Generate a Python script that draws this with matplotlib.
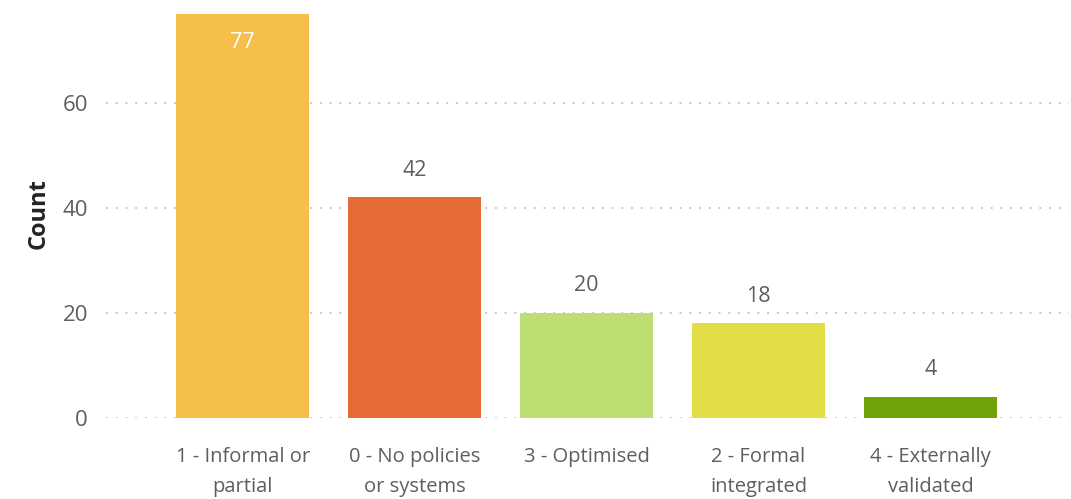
import matplotlib.pyplot as plt
import numpy as np

plt.rcParams["font.family"] = ["Open Sans", "DejaVu Sans"]

# Données
categories = [
    "1 - Informal or\npartial",
    "0 - No policies\nor systems",
    "3 - Optimised",
    "2 - Formal\nintegrated",
    "4 - Externally\nvalidated",
]
counts = [77, 42, 20, 18, 4]
bar_colors = ["#F6BE4B", "#E56C37", "#BCDE72", "#E1DE46", "#70A20A"]
y_ticks = [0, 20, 40, 60]

fig = plt.figure(figsize=(10.71, 4.99), dpi=100)
ax = fig.add_axes([106 / 1071, 81.3 / 499, 963 / 1071, 417.7 / 499])

x = np.arange(len(categories))
bars = ax.bar(x, counts, width=0.775, color=bar_colors, zorder=3)

# Étiquettes de valeur : dans la barre si elle touche le haut, sinon au-dessus
for rect, val in zip(bars, counts):
    cx = rect.get_x() + rect.get_width() / 2
    if val > 70:
        ax.annotate(str(val), (cx, val), xytext=(0, -29), textcoords="offset pixels",
                    ha="center", va="center", color="white", fontsize=15.5, zorder=4)
    else:
        ax.annotate(str(val), (cx, val), xytext=(0, 27), textcoords="offset pixels",
                    ha="center", va="center", color="#605E5C", fontsize=15.5, zorder=4)

ax.set_xlim(-0.794, 4.805)
ax.set_ylim(0, 79.6)
ax.set_xticks(x)
ax.set_xticklabels(categories, fontsize=14.5, color="#605E5C", linespacing=1.65)
ax.set_yticks(y_ticks)
ax.set_yticklabels([str(t) for t in y_ticks], fontsize=16, color="#605E5C")
ax.tick_params(axis="x", length=0, pad=21)
ax.tick_params(axis="y", length=0, pad=13)
for lab in ax.get_xticklabels():
    lab.set_verticalalignment("top")

ax.grid(axis="y", linestyle=(0, (1, 4)), linewidth=1.4, color="#C8C8C8", zorder=0)
for s in ax.spines.values():
    s.set_visible(False)

ax.set_ylabel("Count", fontsize=17, fontweight="bold", color="#252423")
ax.yaxis.set_label_coords(-0.058, 0.488)

fig.savefig("out.png", dpi=100)
